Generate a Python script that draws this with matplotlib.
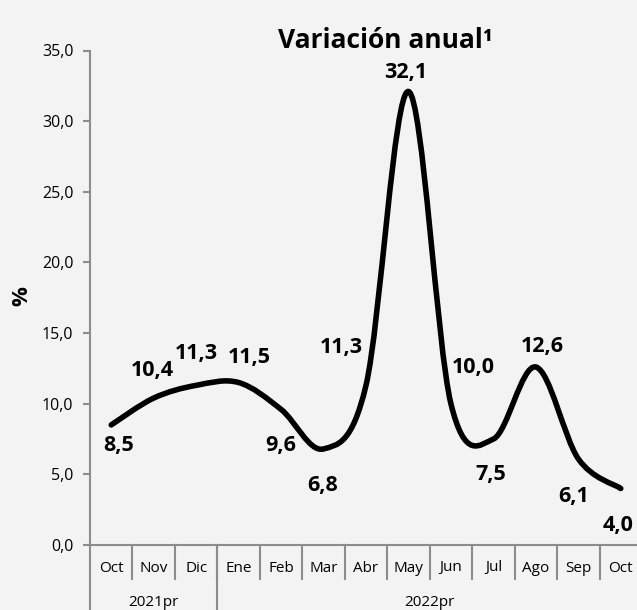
import matplotlib
matplotlib.use('Agg')
import matplotlib.pyplot as plt
from matplotlib.path import Path
from matplotlib.patches import PathPatch
import matplotlib.transforms as mtransforms
import numpy as np

plt.rcParams['font.family'] = ['Open Sans', 'DejaVu Sans']

months = ['Oct', 'Nov', 'Dic', 'Ene', 'Feb', 'Mar', 'Abr', 'May', 'Jun', 'Jul', 'Ago', 'Sep', 'Oct']
values = [8.5, 10.4, 11.3, 11.5, 9.6, 6.8, 11.3, 32.1, 10.0, 7.5, 12.6, 6.1, 4.0]
years = ['2021pr', '2022pr']
year_spans = [(0, 2), (3, 12)]   # first and last month index of each year
label_offsets = [(7, -21), (-1, 28), (0, 32), (11, 25), (0, -36), (-1, -37), (-25, 38),
                 (-3, 19), (22, 36), (-3, -35), (6, 20), (-5, -38), (-3, -37)]

bg = '#f3f3f3'
grey = '#8c8c8c'

fig = plt.figure(figsize=(6.37, 6.10), dpi=100, facecolor=bg)
ax = fig.add_axes([90/637, 1-545/610, 552/637, (545-50.5)/610])
ax.set_facecolor(bg)

x = np.arange(len(values))
y = np.array(values)

# smoothed line like excel (catmull-rom as cubic bezier)
pts = np.column_stack([x, y])
verts = [pts[0]]
codes = [Path.MOVETO]
n = len(pts)
for i in range(n-1):
    p0 = pts[max(i-1, 0)]
    p1 = pts[i]
    p2 = pts[i+1]
    p3 = pts[min(i+2, n-1)]
    verts += [p1 + (p2-p0)/6, p2 - (p3-p1)/6, p2]
    codes += [Path.CURVE4]*3
ax.add_patch(PathPatch(Path(verts, codes), facecolor='none', edgecolor='black',
                       lw=4, capstyle='round', joinstyle='round'))

for i, v in enumerate(values):
    ax.annotate(f'{v:.1f}'.replace('.', ','), (i, v), xytext=label_offsets[i],
                textcoords='offset pixels', ha='center', va='center',
                fontsize=15.5, fontweight='bold')

ax.set_xlim(-0.5, len(values)-0.5)
ax.set_ylim(0, 35)
ax.set_yticks(np.arange(0, 36, 5))
ax.set_yticklabels([f'{t:.1f}'.replace('.', ',') for t in np.arange(0, 36, 5)], fontsize=11.5)
ax.set_xticks([])
for s in ['top', 'right']:
    ax.spines[s].set_visible(False)
for s in ['left', 'bottom']:
    ax.spines[s].set_color(grey)
    ax.spines[s].set_linewidth(1.5)
ax.tick_params(axis='y', length=5, width=1.5, color=grey, pad=7)
fig.text(22/637, 1-296/610, '%', rotation=90, ha='center', va='center',
         fontsize=16, fontweight='bold')

# category table under the axis
tr = mtransforms.blended_transform_factory(ax.transData, ax.transAxes)
row1 = -(578-544)/494.5
row2 = -(640-544)/494.5
for i in range(len(months)):
    ax.text(i, -(567-544)/494.5, months[i], transform=tr, ha='center', va='center', fontsize=11)
    if i > 0:
        ax.plot([i-0.5, i-0.5], [0, row1], transform=tr, color=grey, lw=1.5, clip_on=False)
ax.plot([-0.5, -0.5], [0, row2], transform=tr, color=grey, lw=1.5, clip_on=False)
for k, (a, b) in enumerate(year_spans):
    ax.text((a+b)/2, -(601-544)/494.5, years[k], transform=tr, ha='center', va='center', fontsize=11)
    if k > 0:
        ax.plot([a-0.5, a-0.5], [0, row2], transform=tr, color=grey, lw=1.5, clip_on=False)

fig.text(385/637, 1-40/610, 'Variación anual¹', ha='center', va='center',
         fontsize=19, fontweight='bold')

fig.savefig('out.png', dpi=100, facecolor=bg)
